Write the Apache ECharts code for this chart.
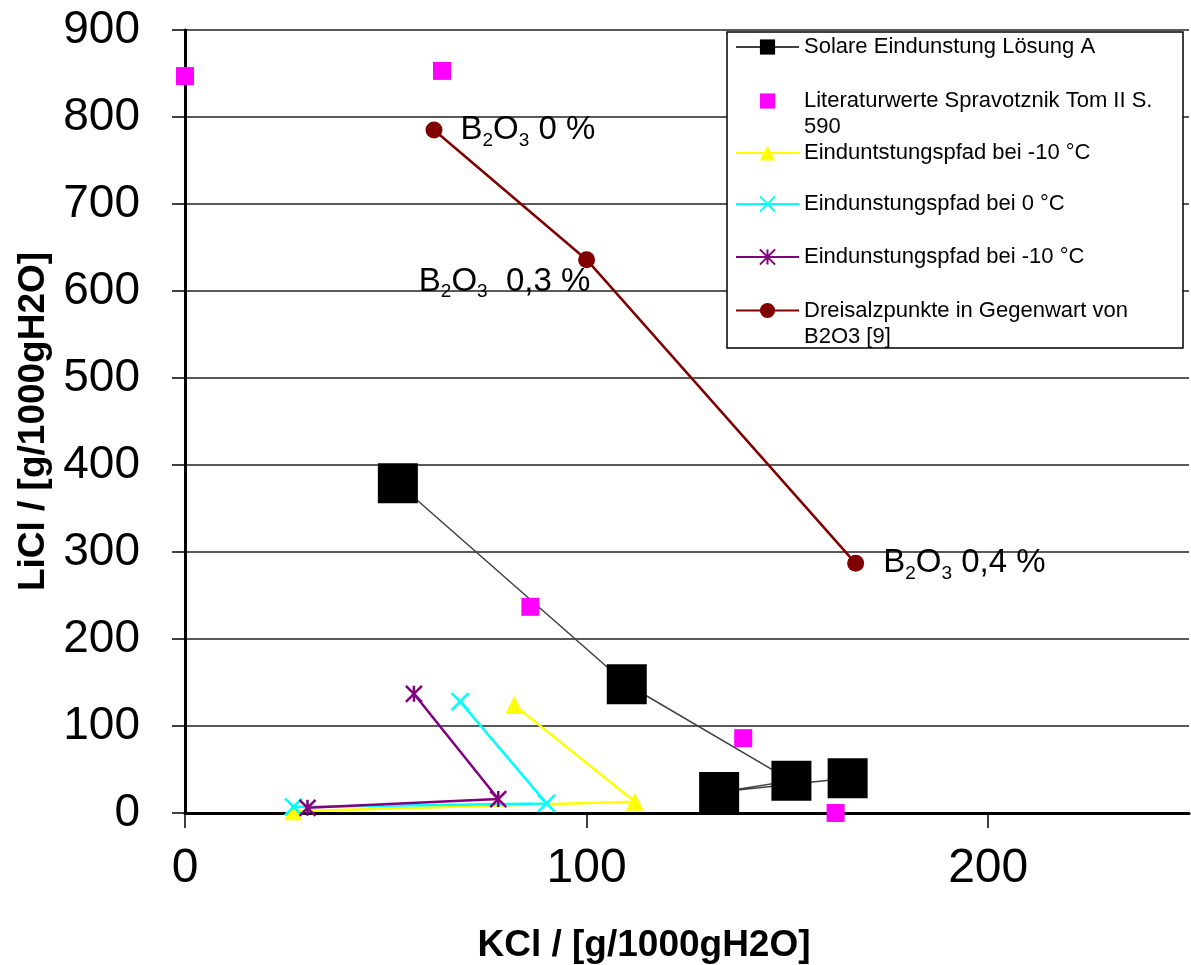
<!DOCTYPE html>
<html>
<head>
<meta charset="utf-8">
<script src="https://cdn.jsdelivr.net/npm/echarts@6/dist/echarts.min.js"></script>
<style>
  html, body { margin: 0; padding: 0; background: #fff; }
  #chart { width: 1191px; height: 965px; }
</style>
</head>
<body>
<div id="chart"></div>
<script>
(function () {
    var FONT = "'Liberation Sans', Arial, sans-serif";

    // Serien-Namen (Legende)
    var names = [
        'Solare Eindunstung Lösung A',
        'Literaturwerte Spravotznik Tom II S. 590',
        'Einduntstungspfad bei -10 °C',
        'Eindunstungspfad bei 0 °C',
        'Eindunstungspfad bei -10 °C',
        'Dreisalzpunkte in Gegenwart von B2O3 [9]'
    ];

    // Messwerte  KCl / LiCl  [g/1000gH2O]
    var solarKCl = [53, 110, 151, 133, 165];
    var solarLiCl = [379, 148, 37, 24, 40];

    var litKCl = [0, 64, 86, 139, 162];
    var litLiCl = [847, 853, 237, 86, 0];

    var yellowKCl = [27, 112, 82];
    var yellowLiCl = [2, 13, 124];

    var cyanKCl = [27, 90, 68.5];
    var cyanLiCl = [7, 11, 128];

    var purpleKCl = [30.5, 78, 57];
    var purpleLiCl = [6, 16, 137];

    var dreiKCl = [62, 100, 167];
    var dreiLiCl = [785, 636, 287];
    var dreiLabels = ['0 %', ' 0,3 %', '0,4 %'];

    var xTicks = [0, 100, 200];

    function pts(xs, ys) {
        return xs.map(function (x, i) { return [x, ys[i]]; });
    }

    var crossPath = 'path://M0,0L10,10M10,0L0,10';
    var starPath = 'path://M0,0L10,10M10,0L0,10M5,0L5,10';

    var labelRich = {
        n: { fontSize: 33, lineHeight: 40, color: '#000', fontFamily: FONT },
        s: { fontSize: 19, lineHeight: 13, verticalAlign: 'bottom', color: '#000', fontFamily: FONT }
    };
    var dreiLabelPos = [
        { position: 'right', distance: 18 },
        { position: 'inside', offset: [-82, 22] },
        { position: 'right', distance: 19 }
    ];
    var dreiData = dreiKCl.map(function (x, i) {
        return {
            value: [x, dreiLiCl[i]],
            label: Object.assign({
                show: true,
                formatter: '{n|B}{s|2}{n|O}{s|3}{n| ' + dreiLabels[i] + '}',
                rich: labelRich
            }, dreiLabelPos[i])
        };
    });

    var legendText = {};
    legendText[names[1]] = '\nLiteraturwerte Spravotznik Tom II S.\n590';
    legendText[names[5]] = '\nDreisalzpunkte in Gegenwart von\nB2O3 [9]';

    function legendAt(name, top, extra) {
        return Object.assign({
            data: [name],
            left: 735,
            top: top,
            orient: 'vertical',
            padding: 0,
            itemWidth: 63,
            itemHeight: 19,
            itemGap: 0,
            z: 10,
            selectedMode: false,
            formatter: function (n) { return legendText[n] || n; },
            textStyle: { fontSize: 22, lineHeight: 26, color: '#000', fontFamily: FONT }
        }, extra || {});
    }

    var myChart = echarts.init(document.getElementById('chart'));

    var option = {
        animation: false,
        backgroundColor: '#fff',
        textStyle: { fontFamily: FONT },
        grid: {
            left: 185, right: 2, top: 30, bottom: 152,
            containLabel: false,
            outerBoundsMode: 'none'
        },
        legend: [
            legendAt(names[0], 34),
            legendAt(names[1], 62, { lineStyle: { opacity: 0 } }),
            legendAt(names[2], 140),
            legendAt(names[3], 191),
            legendAt(names[4], 244),
            legendAt(names[5], 271.5)
        ],
        graphic: {
            elements: [{
                type: 'rect',
                z: 5,
                shape: { x: 727, y: 32, width: 456, height: 316 },
                style: { fill: '#fff', stroke: '#000', lineWidth: 1.5 }
            }]
        },
        xAxis: {
            type: 'value',
            min: 0,
            max: 250,
            interval: 100,
            name: 'KCl / [g/1000gH2O]',
            nameLocation: 'middle',
            nameGap: 114,
            nameMoveOverlap: false,
            nameTextStyle: {
                fontSize: 37, fontWeight: 'bold', color: '#000', fontFamily: FONT,
                padding: [0, 86, 0, 0]
            },
            axisLine: { show: true, onZero: false, lineStyle: { color: '#000', width: 3 } },
            axisTick: { show: true, length: 15, customValues: xTicks, lineStyle: { color: '#000', width: 1.5 } },
            axisLabel: { customValues: xTicks, fontSize: 48, margin: 32, color: '#000', fontFamily: FONT },
            splitLine: { show: false }
        },
        yAxis: {
            type: 'value',
            min: 0,
            max: 900,
            interval: 100,
            name: 'LiCl / [g/1000gH2O]',
            nameLocation: 'middle',
            nameGap: 133,
            nameRotate: 90,
            nameMoveOverlap: false,
            nameTextStyle: { fontSize: 37, fontWeight: 'bold', color: '#000', fontFamily: FONT },
            axisLine: { show: true, lineStyle: { color: '#000', width: 3 } },
            axisTick: { show: true, length: 13, lineStyle: { color: '#000', width: 1.5 } },
            axisLabel: { fontSize: 46, margin: 45, color: '#000', fontFamily: FONT },
            splitLine: { show: true, lineStyle: { color: '#222', width: 1.5 } }
        },
        series: [{
            name: names[0],
            type: 'line',
            data: pts(solarKCl, solarLiCl),
            symbol: 'rect',
            symbolSize: 40,
            lineStyle: { color: '#404040', width: 1.5 },
            itemStyle: { color: '#000', borderWidth: 0 }
        }, {
            name: names[1],
            type: 'line',
            data: pts(litKCl, litLiCl),
            symbol: 'rect',
            symbolSize: 18,
            lineStyle: { color: '#ff00ff', opacity: 0 },
            itemStyle: { color: '#ff00ff', borderWidth: 0 }
        }, {
            name: names[2],
            type: 'line',
            data: pts(yellowKCl, yellowLiCl),
            symbol: 'triangle',
            symbolSize: 18,
            lineStyle: { color: '#ffff00', width: 2.5 },
            itemStyle: { color: '#ffff00', borderWidth: 0 }
        }, {
            name: names[3],
            type: 'line',
            data: pts(cyanKCl, cyanLiCl),
            symbol: crossPath,
            symbolSize: 17,
            lineStyle: { color: '#00ffff', width: 2.5 },
            itemStyle: { color: '#00ffff', borderColor: '#00ffff', borderWidth: 2.5 }
        }, {
            name: names[4],
            type: 'line',
            data: pts(purpleKCl, purpleLiCl),
            symbol: starPath,
            symbolSize: 16,
            lineStyle: { color: '#800080', width: 2.5 },
            itemStyle: { color: '#800080', borderColor: '#800080', borderWidth: 2.5 }
        }, {
            name: names[5],
            type: 'line',
            data: dreiData,
            symbol: 'circle',
            symbolSize: 17,
            lineStyle: { color: '#800000', width: 2.5 },
            itemStyle: { color: '#800000', borderWidth: 0 }
        }]
    };

    myChart.setOption(option);
})();
</script>
</body>
</html>
